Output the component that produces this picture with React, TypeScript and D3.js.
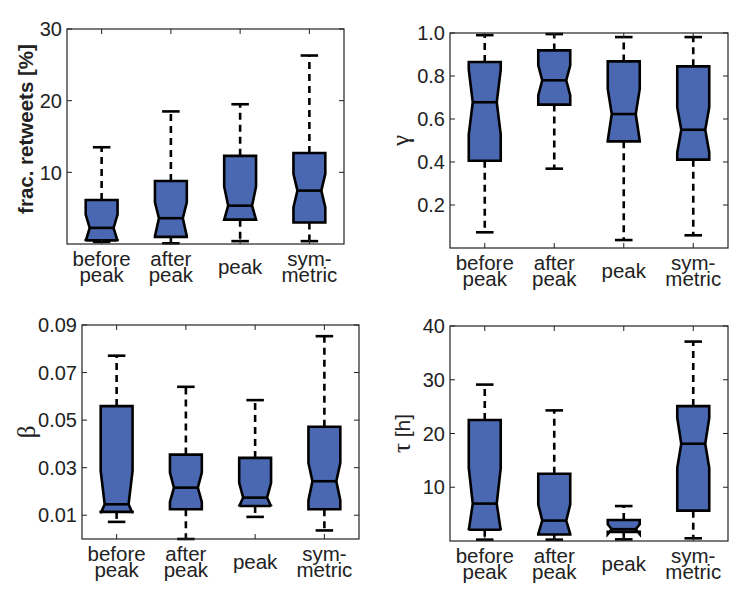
import React from 'react';
import * as d3 from 'd3';

// categories on the x axis (two-line labels)
const categories = ['before peak', 'after peak', 'peak', 'symmetric'];
const categoryLines = [['before', 'peak'], ['after', 'peak'], ['peak'], ['sym-', 'metric']];

// fraction of retweets [%]
const rtWhiskerLo = [0.3, 0.1, 0.4, 0.4];
const rtQ1 = [0.5, 1.0, 3.4, 3.0];
const rtNotchLo = [0.4, 1.1, 3.4, 5.1];
const rtMedian = [2.25, 3.6, 5.35, 7.45];
const rtNotchHi = [4.1, 5.8, 8.0, 9.8];
const rtQ3 = [6.15, 8.8, 12.3, 12.7];
const rtWhiskerHi = [13.5, 18.5, 19.5, 26.3];
const rtTicks = [10, 20, 30];

// gamma
const gWhiskerLo = [0.073, 0.369, 0.037, 0.059];
const gQ1 = [0.406, 0.667, 0.496, 0.411];
const gNotchLo = [0.527, 0.71, 0.499, 0.445];
const gMedian = [0.678, 0.78, 0.623, 0.55];
const gNotchHi = [0.829, 0.85, 0.74, 0.654];
const gQ3 = [0.865, 0.919, 0.868, 0.845];
const gWhiskerHi = [0.99, 0.995, 0.981, 0.981];
const gTicks = [0.2, 0.4, 0.6, 0.8, 1.0];

// beta
const bWhiskerLo = [0.0072, 0.0, 0.0093, 0.0036];
const bQ1 = [0.0114, 0.0125, 0.0139, 0.0125];
const bNotchLo = [0.0108, 0.0156, 0.0138, 0.0163];
const bMedian = [0.0146, 0.0216, 0.0174, 0.0243];
const bNotchHi = [0.0286, 0.0279, 0.0236, 0.032];
const bQ3 = [0.0559, 0.0355, 0.0341, 0.0472];
const bWhiskerHi = [0.0771, 0.064, 0.0584, 0.0853];
const bTicks = [0.01, 0.03, 0.05, 0.07, 0.09];

// tau [h]
const tWhiskerLo = [0.25, 0.25, 0.3, 0.5];
const tQ1 = [2.1, 1.2, 1.7, 5.65];
const tNotchLo = [2.0, 1.3, 1.3, 13.6];
const tMedian = [6.96, 3.8, 2.2, 18.1];
const tNotchHi = [13.6, 6.8, 3.1, 22.9];
const tQ3 = [22.5, 12.5, 3.9, 25.1];
const tWhiskerHi = [29.1, 24.3, 6.5, 37.1];
const tTicks = [10, 20, 30, 40];

const FILL = '#4a68b1';
const SANS = '"Liberation Sans", Arial, Helvetica, sans-serif';
const SERIF = '"Liberation Serif", "Times New Roman", serif';

type Stats = {
  lo: number[]; q1: number[]; nlo: number[]; med: number[];
  nhi: number[]; q3: number[]; hi: number[];
};

type PanelProps = {
  left: number; right: number; top: number; bottom: number;
  domain: [number, number];
  ticks: number[];
  fmt: (v: number) => string;
  stats: Stats;
  label: React.ReactNode;
  labelX: number;
  labelY?: number;
  tickFont?: number;
};

function Panel({ left, right, top, bottom, domain, ticks, fmt, stats, label, labelX, labelY, tickFont = 20 }: PanelProps) {
  const x = d3.scalePoint<string>().domain(categories).range([left, right]).padding(0.5);
  const step = x.step();
  const y = d3.scaleLinear().domain(domain).range([bottom, top]);
  const bw = step * 0.46;
  const inset = bw * 0.125;
  const capW = bw * 0.55;
  const tickLen = 5;
  const ly = labelY ?? (top + bottom) / 2;

  return (
    <g>
      {categories.map((c, i) => {
        const cx = x(c)!;
        const l = cx - bw / 2;
        const r = cx + bw / 2;
        const pts: [number, number][] = [
          [l, y(stats.q3[i])],
          [l, y(stats.nhi[i])],
          [l + inset, y(stats.med[i])],
          [l, y(stats.nlo[i])],
          [l, y(stats.q1[i])],
          [r, y(stats.q1[i])],
          [r, y(stats.nlo[i])],
          [r - inset, y(stats.med[i])],
          [r, y(stats.nhi[i])],
          [r, y(stats.q3[i])],
        ];
        const path = d3.line()(pts) + 'Z';
        return (
          <g key={c}>
            <line x1={cx} x2={cx} y1={y(stats.q3[i])} y2={y(stats.hi[i])}
              stroke="#000" strokeWidth={2.6} strokeDasharray="7,5" />
            <line x1={cx} x2={cx} y1={y(stats.q1[i])} y2={y(stats.lo[i])}
              stroke="#000" strokeWidth={2.6} strokeDasharray="7,5" />
            <line x1={cx - capW / 2} x2={cx + capW / 2} y1={y(stats.hi[i])} y2={y(stats.hi[i])}
              stroke="#000" strokeWidth={2.6} />
            <line x1={cx - capW / 2} x2={cx + capW / 2} y1={y(stats.lo[i])} y2={y(stats.lo[i])}
              stroke="#000" strokeWidth={2.6} />
            <path d={path} fill={FILL} stroke="#000" strokeWidth={2.6} strokeLinejoin="miter" />
            <line x1={l + inset} x2={r - inset} y1={y(stats.med[i])} y2={y(stats.med[i])}
              stroke="#000" strokeWidth={2.6} />
          </g>
        );
      })}
      <rect x={left} y={top} width={right - left} height={bottom - top}
        fill="none" stroke="#222" strokeWidth={1.2} />
      {ticks.map(t => (
        <g key={t}>
          <line x1={left} x2={left + tickLen} y1={y(t)} y2={y(t)} stroke="#222" strokeWidth={1} />
          <line x1={right} x2={right - tickLen} y1={y(t)} y2={y(t)} stroke="#222" strokeWidth={1} />
          <text x={left - 5} y={y(t)} dy="0.36em" textAnchor="end"
            fontFamily={SANS} fontSize={tickFont} fill="#222">{fmt(t)}</text>
        </g>
      ))}
      {categories.map((c, i) => {
        const cx = x(c)!;
        const lines = categoryLines[i];
        return (
          <g key={c + 't'}>
            <line x1={cx} x2={cx} y1={bottom} y2={bottom - tickLen} stroke="#222" strokeWidth={1} />
            <line x1={cx} x2={cx} y1={top} y2={top + tickLen} stroke="#222" strokeWidth={1} />
            {lines.length === 2 ? (
              <>
                <text x={cx} y={bottom + 22} textAnchor="middle" fontFamily={SANS} fontSize={20.5} fill="#222">{lines[0]}</text>
                <text x={cx} y={bottom + 38} textAnchor="middle" fontFamily={SANS} fontSize={20.5} fill="#222">{lines[1]}</text>
              </>
            ) : (
              <text x={cx} y={bottom + 30} textAnchor="middle" fontFamily={SANS} fontSize={20.5} fill="#222">{lines[0]}</text>
            )}
          </g>
        );
      })}
      <text transform={`translate(${labelX},${ly}) rotate(-90)`}
        textAnchor="middle" fill="#222">{label}</text>
    </g>
  );
}

export default function App() {
  return (
    <svg width={749} height={606} style={{ display: 'block', margin: -8, background: '#fff' }}>
      <Panel left={67} right={344} top={29} bottom={244} domain={[0, 30]} ticks={rtTicks}
        fmt={d3.format('d')} labelX={33} labelY={129}
        stats={{ lo: rtWhiskerLo, q1: rtQ1, nlo: rtNotchLo, med: rtMedian, nhi: rtNotchHi, q3: rtQ3, hi: rtWhiskerHi }}
        label={<tspan fontFamily={SANS} fontWeight="bold" fontSize={20.5}>frac. retweets [%]</tspan>} />
      <Panel left={450} right={728} top={33} bottom={248} domain={[0, 1]} ticks={gTicks}
        fmt={d3.format('.1f')} labelX={409}
        stats={{ lo: gWhiskerLo, q1: gQ1, nlo: gNotchLo, med: gMedian, nhi: gNotchHi, q3: gQ3, hi: gWhiskerHi }}
        label={<tspan fontFamily={SERIF} fontSize={25}>γ</tspan>} />
      <Panel left={82} right={359} top={325} bottom={539} domain={[0, 0.09]} ticks={bTicks}
        fmt={d3.format('.2f')} labelX={35}
        stats={{ lo: bWhiskerLo, q1: bQ1, nlo: bNotchLo, med: bMedian, nhi: bNotchHi, q3: bQ3, hi: bWhiskerHi }}
        label={<tspan fontFamily={SERIF} fontSize={25}>β</tspan>} />
      <Panel left={450} right={728} top={326} bottom={541} domain={[0, 40]} ticks={tTicks}
        fmt={d3.format('d')} labelX={410}
        stats={{ lo: tWhiskerLo, q1: tQ1, nlo: tNotchLo, med: tMedian, nhi: tNotchHi, q3: tQ3, hi: tWhiskerHi }}
        label={<><tspan fontFamily={SERIF} fontSize={25}>τ</tspan><tspan fontFamily={SANS} fontSize={21}> [h]</tspan></>} />
    </svg>
  );
}
